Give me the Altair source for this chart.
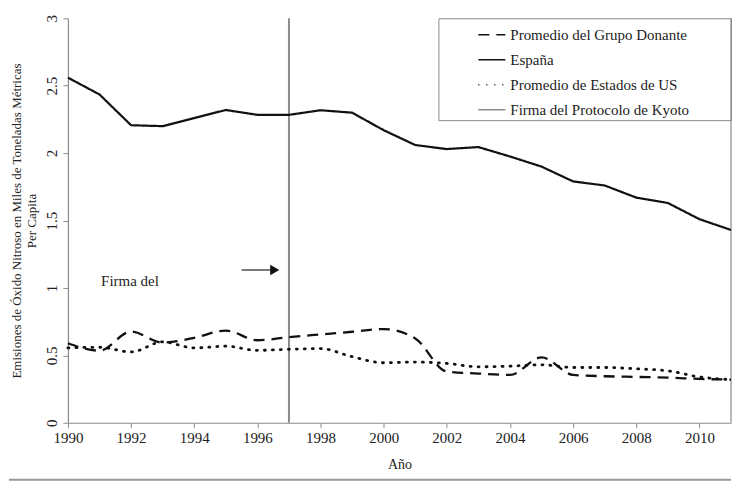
import altair as alt
import pandas as pd

years = list(range(1990, 2012))
espana = [2.56, 2.435, 2.207, 2.20, 2.26, 2.32, 2.284, 2.284, 2.318, 2.30, 2.17, 2.06, 2.03, 2.045, 1.975, 1.90, 1.79, 1.76, 1.67, 1.63, 1.51, 1.43]
donante = [0.59, 0.535, 0.676, 0.595, 0.63, 0.684, 0.612, 0.635, 0.655, 0.675, 0.695, 0.625, 0.38, 0.365, 0.355, 0.485, 0.355, 0.345, 0.34, 0.335, 0.325, 0.32]
estados = [0.555, 0.56, 0.525, 0.60, 0.555, 0.568, 0.537, 0.545, 0.55, 0.49, 0.445, 0.45, 0.44, 0.415, 0.42, 0.43, 0.41, 0.41, 0.40, 0.385, 0.34, 0.32]

series_names = ["Promedio del Grupo Donante", "España", "Promedio de Estados de US", "Firma del Protocolo de Kyoto"]
kyoto_year = [1997]
x_ticks = list(range(1990, 2011, 2))
y_ticks = [0, 0.5, 1, 1.5, 2, 2.5, 3]
annot_text = ["Firma del"]
annot_x = [1991.05]
annot_y = [1.05]
arrow_x = [1995.5]
arrow_x2 = [1996.45]
arrow_tip = [1996.55]
arrow_y = [1.133]

FONT = "Liberation Serif"
TXT = "#222222"
GRAY = "#8a8a8a"

rows = []
for name, vals in zip(series_names[:3], [donante, espana, estados]):
    for yr, v in zip(years, vals):
        rows.append({"year": yr, "value": v, "serie": name})
df = pd.DataFrame(rows)
kyoto_df = pd.DataFrame({"year": kyoto_year, "serie": [series_names[3]]})
border_df = pd.DataFrame({"year": [years[-1]], "y0": [y_ticks[0]], "y1": [y_ticks[-1]]})
annot_df = pd.DataFrame({"x": annot_x, "y": annot_y, "t": annot_text})
arrow_df = pd.DataFrame({"x": arrow_x, "x2": arrow_x2, "tip": arrow_tip, "y": arrow_y})

xscale = alt.Scale(domain=[years[0], years[-1]], nice=False, zero=False)
yscale = alt.Scale(domain=[y_ticks[0], y_ticks[-1]], nice=False)

color = alt.Color(
    "serie:N",
    scale=alt.Scale(domain=series_names, range=["#111111", "#111111", "#111111", GRAY]),
    legend=alt.Legend(
        title="\u2800", titleOrient="right", titleFontSize=2, titlePadding=39,
        orient="top-right", offset=0, strokeColor=GRAY, padding=2,
        symbolType="stroke", symbolSize=729, symbolStrokeWidth=1.5,
        labelFont=FONT, labelFontSize=15, labelColor=TXT, labelOffset=4, labelLimit=500,
        rowPadding=2, symbolOffset=37,
    ),
)
dash = alt.StrokeDash(
    "serie:N",
    scale=alt.Scale(domain=series_names, range=[[11, 7], [1, 0], [1, 7], [1, 0]]),
    legend=None,
)

x_enc = alt.X(
    "year:Q", scale=xscale,
    axis=alt.Axis(values=x_ticks, format="d", title="Año", labelFont=FONT, labelFontSize=15,
                  labelColor=TXT, titleFont=FONT, titleFontSize=14, titleFontWeight="normal",
                  titleColor=TXT, tickSize=5, labelPadding=3, titlePadding=12, labelFlush=False),
)
y_enc = alt.Y(
    "value:Q", scale=yscale,
    axis=alt.Axis(values=y_ticks, format=".1~f",
                  title=["Emisiones de Óxido Nitroso en Miles de Toneladas Métricas", "Per Capita"],
                  labelFont=FONT, labelFontSize=15, labelColor=TXT, labelAngle=270,
                  labelAlign="center", labelBaseline="bottom", tickSize=5, labelPadding=3,
                  titleFont=FONT, titleFontSize=13, titleFontWeight="normal", titleColor=TXT,
                  titleLineHeight=15, titlePadding=6),
)

base = alt.Chart(df)
esp = base.transform_filter(alt.datum.serie == series_names[1]).mark_line(strokeWidth=2.2).encode(
    x=x_enc, y=y_enc, color=color, strokeDash=dash)
don = base.transform_filter(alt.datum.serie == series_names[0]).mark_line(
    strokeWidth=2.3, interpolate="monotone").encode(
    x="year:Q", y="value:Q", color=color, strokeDash=dash)
est = base.transform_filter(alt.datum.serie == series_names[2]).mark_line(
    strokeWidth=2.8, interpolate="monotone", strokeCap="round").encode(
    x="year:Q", y="value:Q", color=color, strokeDash=dash)
kyoto = alt.Chart(kyoto_df).mark_rule(strokeWidth=2).encode(x="year:Q", color=color, strokeDash=dash)
border = alt.Chart(border_df).mark_rule(color=GRAY, strokeWidth=1.2).encode(x="year:Q", y="y0:Q", y2="y1:Q")
annot = alt.Chart(annot_df).mark_text(font=FONT, fontSize=15, color=TXT, align="left", baseline="middle").encode(
    x="x:Q", y="y:Q", text="t:N")
arrow_line = alt.Chart(arrow_df).mark_rule(color="#333", strokeWidth=1.3).encode(x="x:Q", x2="x2:Q", y="y:Q")
arrow_head = alt.Chart(arrow_df).mark_point(shape="triangle-right", filled=True, color="#111", size=110, opacity=1).encode(
    x="tip:Q", y="y:Q")
sep = alt.Chart(annot_df).mark_rule(color="#999", strokeWidth=2).encode(
    x=alt.value(-59), x2=alt.value(664), y=alt.value(462))

chart = alt.layer(border, kyoto, don, est, esp, annot, arrow_line, arrow_head, sep).properties(
    width=664, height=405, padding={"left": 0, "top": 6, "right": 5, "bottom": 0}
).configure_view(stroke=None).configure_axis(
    grid=False, domainColor=GRAY, tickColor=GRAY, domainWidth=1.2
)

chart.save("out.html", embed_options={"renderer": "svg", "actions": False})
